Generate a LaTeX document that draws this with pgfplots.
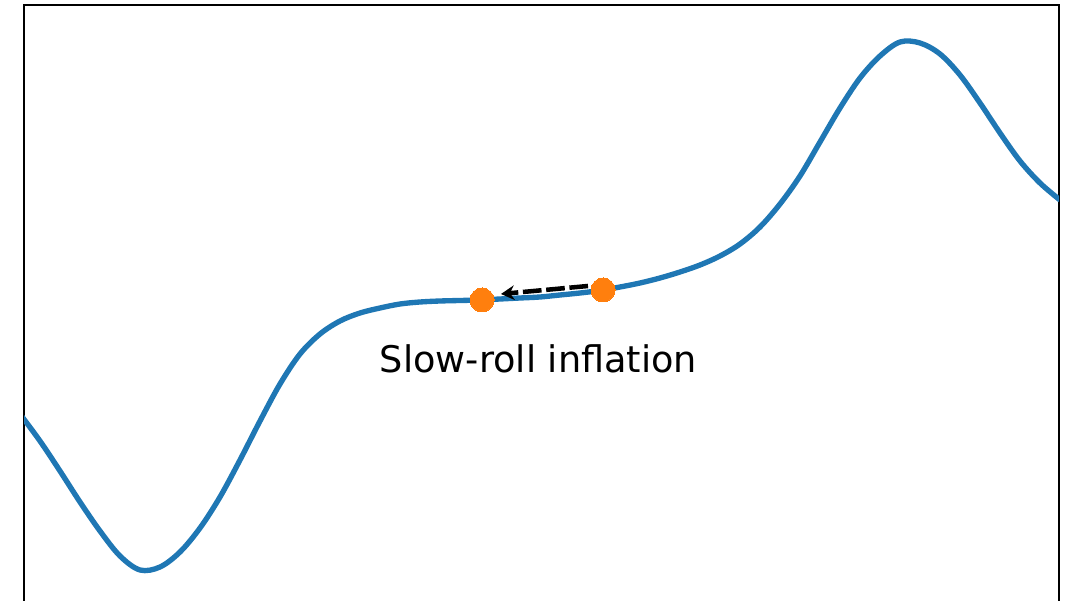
\documentclass[border=0pt]{standalone}
\usepackage{pgfplots}
\pgfplotsset{compat=1.18}
\usepackage{fontspec}
\setmainfont{DejaVu Sans}
\usetikzlibrary{arrows.meta}
\definecolor{mplblue}{RGB}{31,119,180}
\definecolor{mplorange}{RGB}{255,127,14}
\begin{document}
\begin{tikzpicture}
\begin{axis}[
  scale only axis,
  width=776.25pt, height=453.75pt,
  xmin=24, xmax=1059, ymin=-10, ymax=595,
  xtick=\empty, ytick=\empty,
  axis line style={black, line width=1.4pt},
]
\addplot[mplblue, line width=4pt, smooth, tension=0.55, line join=round] coordinates {
(20,186) (40,159) (60,129) (80,98) (100,69) (120,44) (140,30) (160,33)
(180,48) (200,72) (220,103) (240,140) (260,179) (280,216) (300,246)
(320,266) (340,279) (360,287) (380,292) (400,296) (420,298) (440,299)
(460,299.5) (480,300) (500,301) (520,302) (540,303) (560,305) (580,307)
(600,309.5) (620,313) (640,317) (660,322) (680,328) (700,335) (720,344)
(740,356) (760,373) (780,396) (800,424) (820,458) (840,492) (860,522)
(880,544) (900,558) (920,557) (940,546) (960,525) (980,497) (1000,467)
(1020,439) (1040,417) (1060,400)
};
\addplot[black, line width=3.4pt, dash pattern=on 14pt off 3.5pt, -{Stealth[length=10pt,width=11pt]}] coordinates {(588,314) (501,306)};
\addplot[only marks, mark=*, mark size=9pt, mplorange, mark options={draw=mplorange, fill=mplorange, line width=0pt}] coordinates {(482,300) (603,310)};
\node[anchor=base, font=\fontsize{27.5}{32}\selectfont] at (axis cs:538.5,227) {Slow-roll inflation};
\coordinate (ll) at (axis cs:0,0);
\coordinate (ur) at (axis cs:1074,600);
\end{axis}
\pgfresetboundingbox
\useasboundingbox (ll) rectangle (ur);
\end{tikzpicture}
\end{document}
